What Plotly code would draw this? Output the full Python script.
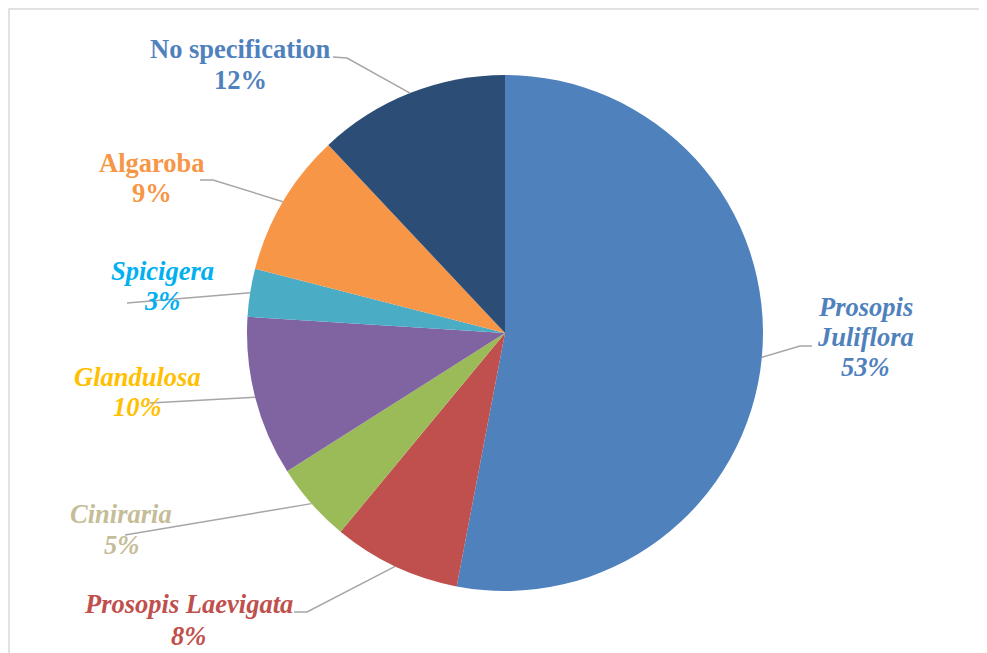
import math
import plotly.graph_objects as go

categories = ["Prosopis Juliflora", "Prosopis Laevigata", "Ciniraria", "Glandulosa",
              "Spicigera", "Algaroba", "No specification"]
values = [53, 8, 5, 10, 3, 9, 12]
slice_colors = ["#4F81BD", "#C0504D", "#9BBB59", "#8064A2", "#4BACC6", "#F79646", "#2C4D75"]
label_colors = ["#4F81BD", "#C0504D", "#C4BD97", "#FFC000", "#00B0F0", "#F79646", "#4F81BD"]
label_lines = [["Prosopis", "Juliflora"], ["Prosopis Laevigata"], ["Ciniraria"], ["Glandulosa"],
               ["Spicigera"], ["Algaroba"], ["No specification"]]
label_italic = [True, True, True, True, True, False, False]

# page has an 8px body margin
OFF = 8
W, H = 987 - OFF, 653 - OFF
CX, CY, R = 505, 333, 258

# label centre x and line centre y values (pixels, in screenshot coordinates)
label_x = [865, 188, 121, 137, 162, 152, 240]
label_y = [[307, 337, 367], [604, 636], [514, 545], [377, 407], [271, 301], [163, 193], [49, 80]]
leader_pts = [[(812, 346), (800, 346)],
              [(294, 612), (307, 612)],
              [(125, 535)],
              [(150, 403)],
              [(127, 303)],
              [(200, 180), (213, 180)],
              [(333, 57), (347, 58)]]


def px(x):
    return (x - OFF) / W


def py(y):
    return 1 - (y - OFF) / H


fig = go.Figure(go.Pie(
    labels=categories, values=values, sort=False, direction="clockwise", rotation=0,
    marker=dict(colors=slice_colors, line=dict(width=0)),
    textinfo="none", hoverinfo="label+percent", showlegend=False,
    domain=dict(x=[px(CX - R), px(CX + R)], y=[py(CY + R), py(CY - R)]),
))

total = sum(values)
cum = 0
shapes = []
annotations = []
for i, v in enumerate(values):
    mid = (cum + v / 2) / total * 2 * math.pi
    cum += v
    ax = CX + R * math.sin(mid)
    ay = CY - R * math.cos(mid)
    pts = leader_pts[i] + [(ax, ay)]
    path = "M " + " L ".join(f"{px(x):.5f},{py(y):.5f}" for x, y in pts)
    shapes.append(dict(type="path", xref="paper", yref="paper", path=path,
                       line=dict(color="#A6A6A6", width=1.5)))
    lines = label_lines[i] + [f"{round(v / total * 100)}%"]
    for txt, ly in zip(lines, label_y[i]):
        t = f"<b>{txt}</b>"
        if label_italic[i]:
            t = f"<i>{t}</i>"
        annotations.append(dict(x=px(label_x[i]), y=py(ly), xref="paper", yref="paper",
                                text=t, showarrow=False,
                                xanchor="center", yanchor="middle", align="center",
                                font=dict(family="Liberation Serif, Times New Roman, serif",
                                          size=26.5, color=label_colors[i])))

shapes.append(dict(type="rect", xref="paper", yref="paper", x0=px(9), y0=py(9), x1=1.05, y1=-0.05,
                   line=dict(color="#D9D9D9", width=1.5), layer="below"))

fig.update_layout(width=W, height=H, margin=dict(l=0, r=0, t=0, b=0),
                  paper_bgcolor="white", plot_bgcolor="white",
                  shapes=shapes, annotations=annotations)
fig.write_html("out.html")
